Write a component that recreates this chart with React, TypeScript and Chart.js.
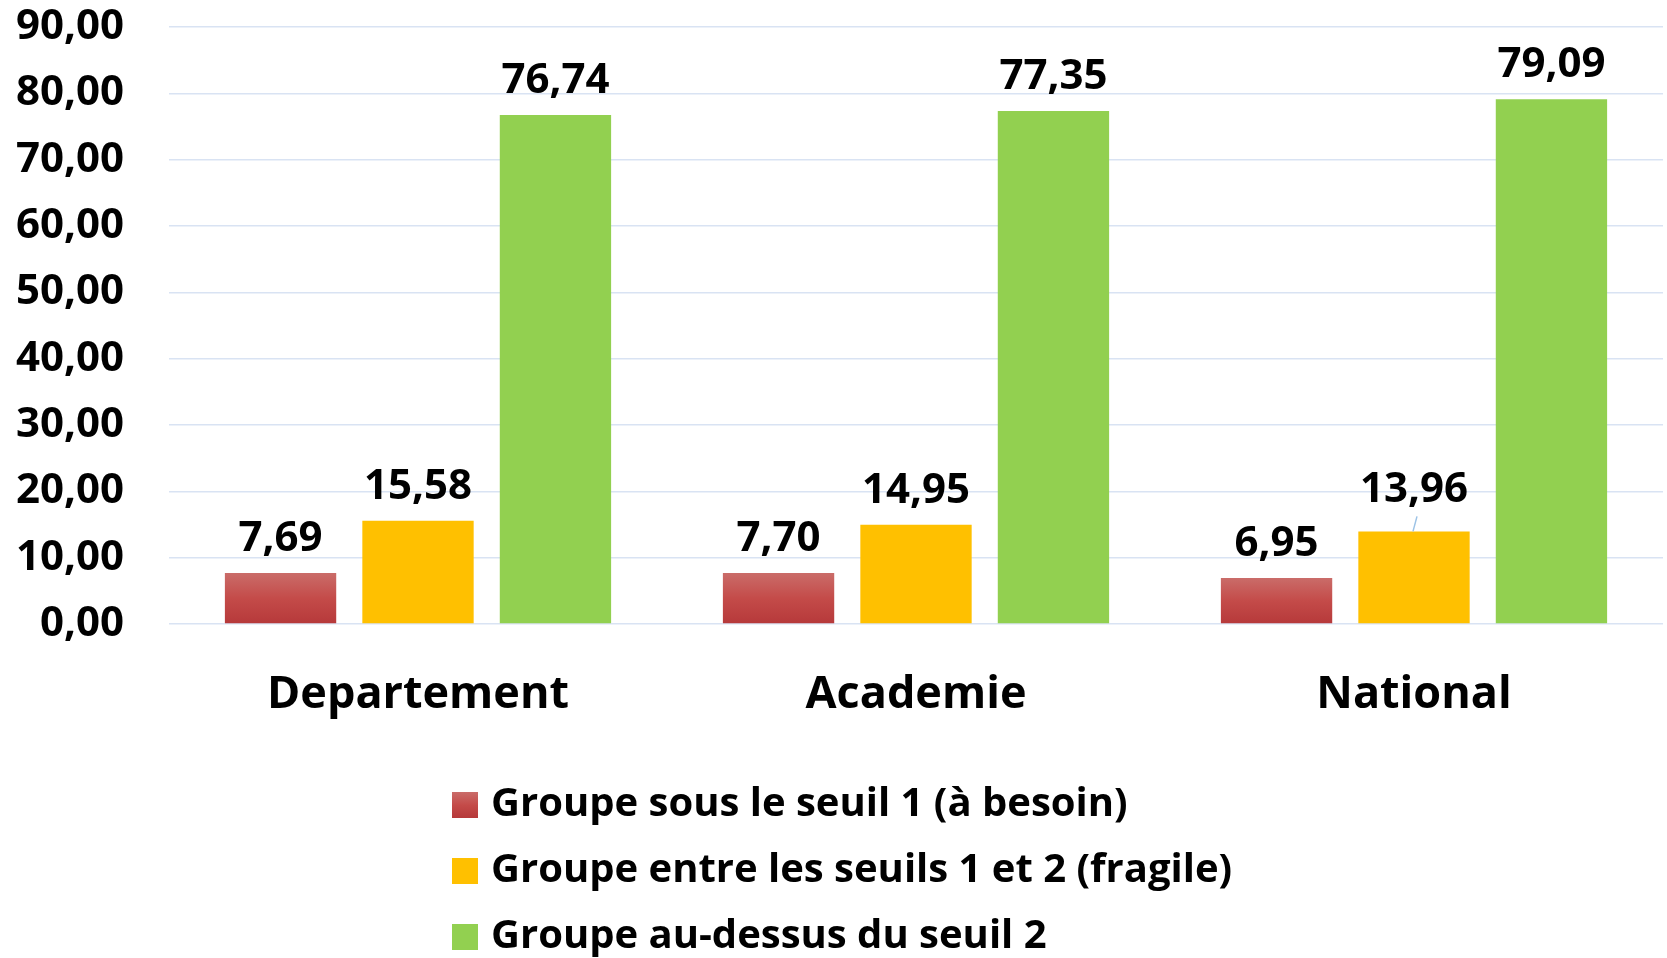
import React, { useEffect, useRef } from 'react';
import { Chart, registerables } from 'chart.js';

Chart.register(...registerables);

const categories = ['Departement', 'Academie', 'National'];
const seriesNames = [
  'Groupe sous le seuil 1 (à besoin)',
  'Groupe entre les seuils 1 et 2 (fragile)',
  'Groupe au-dessus du seuil 2',
];
const sousSeuil1 = [7.69, 7.7, 6.95];
const entreSeuils = [15.58, 14.95, 13.96];
const auDessusSeuil2 = [76.74, 77.35, 79.09];
const yMin = 0;
const yMax = 90;
const yStep = 10;

const FONT = "'Open Sans', 'Noto Sans', sans-serif";
const fmt = (v: number) => v.toFixed(2).replace('.', ',');

const RED_TOP = '#CA6C69';
const RED_MID = '#C44B49';
const RED_BOTTOM = '#B6393A';
const YELLOW = '#FFC000';
const GREEN = '#92D050';

function redGradient(ctx: CanvasRenderingContext2D, top: number, bottom: number) {
  const g = ctx.createLinearGradient(0, top, 0, bottom);
  g.addColorStop(0, RED_TOP);
  g.addColorStop(0.5, RED_MID);
  g.addColorStop(1, RED_BOTTOM);
  return g;
}

const valueLabelPlugin = {
  id: 'valueLabels',
  afterDatasetsDraw(chart: any) {
    const ctx = chart.ctx as CanvasRenderingContext2D;
    ctx.save();
    ctx.font = `bold 42px ${FONT}`;
    ctx.fillStyle = '#000000';
    ctx.textAlign = 'center';
    ctx.textBaseline = 'alphabetic';
    chart.data.datasets.forEach((ds: any, di: number) => {
      const meta = chart.getDatasetMeta(di);
      meta.data.forEach((bar: any, i: number) => {
        const { x, y } = bar.getProps(['x', 'y'], true);
        const lifted = di === 1 && i === 2;
        const lift = lifted ? 7 : 0;
        if (lifted) {
          ctx.save();
          ctx.strokeStyle = '#9DC3E6';
          ctx.lineWidth = 1.5;
          ctx.beginPath();
          ctx.moveTo(x - 1, y);
          ctx.lineTo(x + 3, y - 15);
          ctx.stroke();
          ctx.restore();
        }
        ctx.fillText(fmt(ds.data[i]), x, y - 22 - lift);
      });
    });
    ctx.restore();
  },
};

const legendPlugin = {
  id: 'stackedLegend',
  afterDraw(chart: any) {
    const ctx = chart.ctx as CanvasRenderingContext2D;
    const boxX = 452;
    const textX = 491;
    const firstY = 805;
    const rowGap = 66;
    const box = 26;
    ctx.save();
    ctx.font = `bold 40px ${FONT}`;
    ctx.textAlign = 'left';
    ctx.textBaseline = 'middle';
    chart.data.datasets.forEach((ds: any, di: number) => {
      const cy = firstY + di * rowGap;
      const top = cy - box / 2;
      ctx.fillStyle = di === 0 ? redGradient(ctx, top, top + box) : ds.legendColor;
      ctx.fillRect(boxX, top, box, box);
      ctx.fillStyle = '#000000';
      ctx.fillText(ds.label, textX, cy);
    });
    ctx.restore();
  },
};

export default function App() {
  const canvasRef = useRef<HTMLCanvasElement | null>(null);

  useEffect(() => {
    const canvas = canvasRef.current;
    if (!canvas) return;
    const chart = new Chart(canvas, {
      type: 'bar',
      data: {
        labels: categories,
        datasets: [
          {
            label: seriesNames[0],
            data: sousSeuil1,
            legendColor: RED_MID,
            backgroundColor: (c: any) => {
              const ch = c.chart;
              if (c.type !== 'data' || !ch.chartArea || !ch.scales.y) return RED_MID;
              const top = ch.scales.y.getPixelForValue(c.raw);
              const bottom = ch.scales.y.getPixelForValue(0);
              return redGradient(ch.ctx, top, bottom);
            },
          } as any,
          {
            label: seriesNames[1],
            data: entreSeuils,
            legendColor: YELLOW,
            backgroundColor: YELLOW,
          } as any,
          {
            label: seriesNames[2],
            data: auDessusSeuil2,
            legendColor: GREEN,
            backgroundColor: GREEN,
          } as any,
        ],
      },
      options: {
        responsive: false,
        animation: false,
        events: [],
        layout: { padding: { top: 27, left: 0, right: 4, bottom: 224 } },
        datasets: {
          bar: { barPercentage: 0.81, categoryPercentage: 0.828, borderWidth: 0 },
        },
        plugins: {
          legend: { display: false },
          tooltip: { enabled: false },
          title: { display: false },
        },
        scales: {
          x: {
            grid: { display: false, drawTicks: true, tickLength: 44, tickColor: 'rgba(0,0,0,0)' },
            border: { display: false },
            ticks: {
              color: '#000000',
              padding: 0,
              font: { family: FONT, size: 45, weight: 'bold' },
            },
            afterFit: (s: any) => {
              s.height = 110;
            },
          },
          y: {
            min: yMin,
            max: yMax,
            grid: { color: '#D9E3F3', lineWidth: 1.5, drawTicks: true, tickLength: 45, tickColor: 'rgba(0,0,0,0)' },
            border: { display: false },
            ticks: {
              stepSize: yStep,
              color: '#000000',
              padding: 0,
              font: { family: FONT, size: 42, weight: 'bold' },
              callback: (v: any) => fmt(Number(v)),
            },
            afterFit: (s: any) => {
              s.width = 169;
            },
          },
        },
      } as any,
      plugins: [valueLabelPlugin, legendPlugin],
    });
    return () => chart.destroy();
  }, []);

  return (
    <div style={{ position: 'absolute', left: 0, top: 0, width: 1667, height: 958, background: '#ffffff' }}>
      <canvas ref={canvasRef} width={1667} height={958} style={{ display: 'block' }} />
    </div>
  );
}
